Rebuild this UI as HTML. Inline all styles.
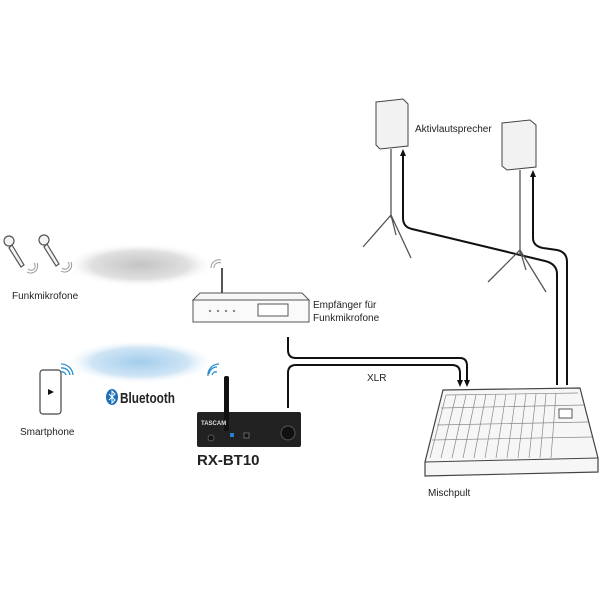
<!DOCTYPE html>
<html><head><style>
body{margin:0;width:600px;height:600px;background:#fff;overflow:hidden}
svg{display:block}
text{font-family:"Liberation Sans",sans-serif;fill:#222}
</style></head><body>
<svg width="600" height="600" viewBox="0 0 600 600">
<defs>
<radialGradient id="g1"><stop offset="0" stop-color="#c4c4c4"/><stop offset="0.65" stop-color="#e0e0e0"/><stop offset="1" stop-color="#fff" stop-opacity="0"/></radialGradient>
<radialGradient id="g2"><stop offset="0" stop-color="#a3cdec"/><stop offset="0.65" stop-color="#cfe5f5"/><stop offset="1" stop-color="#fff" stop-opacity="0"/></radialGradient>
<marker id="ar" markerUnits="userSpaceOnUse" markerWidth="8" markerHeight="8" refX="2" refY="4" orient="auto"><path d="M0,1 L7,4 L0,7z" fill="#111"/></marker>
</defs>
<ellipse cx="140" cy="265" rx="75" ry="22" fill="url(#g1)"/>
<ellipse cx="140" cy="362" rx="75" ry="22" fill="url(#g2)"/>
<!-- mics -->
<g stroke="#555" stroke-width="1.2" fill="#f4f4f4">
<circle cx="9" cy="241" r="5"/><path d="M12,245 L24,265 L21,267 L9,248z"/>
<circle cx="44" cy="240" r="5"/><path d="M47,244 L59,264 L56,266 L44,247z"/>
</g>
<g stroke="#999" fill="none" stroke-width="1">
<path d="M28,269 a4,4 0 0 0 6,-6 M27,272 a7,7 0 0 0 10,-9"/>
<path d="M62,268 a4,4 0 0 0 6,-6 M61,271 a7,7 0 0 0 10,-9"/>
<path d="M214,268 a5,5 0 0 1 7,-5 M211,268 a8,8 0 0 1 10,-8"/>
</g>
<text x="12" y="299" font-size="10">Funkmikrofone</text>
<!-- receiver -->
<line x1="222" y1="268" x2="222" y2="293" stroke="#555" stroke-width="2"/>
<path d="M200,293 L302,293 L309,300 L193,300z" fill="#f7f7f7" stroke="#555"/>
<rect x="193" y="300" width="116" height="22" fill="#fafafa" stroke="#555"/>
<g fill="#888"><circle cx="210" cy="311" r="1.2"/><circle cx="218" cy="311" r="1.2"/><circle cx="226" cy="311" r="1.2"/><circle cx="234" cy="311" r="1.2"/></g>
<rect x="258" y="304" width="30" height="12" fill="#fff" stroke="#555"/>
<text x="313" y="308" font-size="10">Empfänger für</text>
<text x="313" y="321" font-size="10">Funkmikrofone</text>
<!-- phone -->
<rect x="40" y="370" width="21" height="44" rx="3" fill="#fff" stroke="#444" stroke-width="1.2"/>
<path d="M48,389 L54,392 L48,395z" fill="#111"/>
<g stroke="#2a8fd0" fill="none" stroke-width="1.3">
<path d="M61,372 a4,4 0 0 1 5,3 M61,368 a8,8 0 0 1 9,7 M61,364 a12,12 0 0 1 12,11"/>
<path d="M212,375 a4,4 0 0 1 5,-3 M209,374 a8,8 0 0 1 8,-7 M208,376 a11,11 0 0 1 11,-12"/>
</g>
<text x="20" y="435" font-size="10">Smartphone</text>
<!-- bluetooth -->
<ellipse cx="112" cy="397" rx="6" ry="8" fill="#1e6fb8"/>
<path d="M109,394 L115,400 L112,403 L112,391 L115,394 L109,400" stroke="#fff" stroke-width="1" fill="none"/>
<text x="120" y="403" font-size="15" font-weight="bold" fill="#222" textLength="55" lengthAdjust="spacingAndGlyphs">Bluetooth</text>
<!-- RX-BT10 -->
<rect x="197" y="412" width="104" height="35" rx="2" fill="#222"/>
<rect x="224" y="376" width="5" height="55" rx="2" fill="#111"/>
<text x="201" y="425" font-size="6" font-weight="bold" style="fill:#ddd">TASCAM</text>
<circle cx="288" cy="433" r="7" fill="#111" stroke="#555"/>
<circle cx="211" cy="438" r="3" fill="#111" stroke="#555"/>
<rect x="230" y="433" width="4" height="4" fill="#2a7fd0"/>
<rect x="244" y="433" width="5" height="5" fill="#111" stroke="#666"/>
<text x="197" y="465" font-size="15" font-weight="bold">RX-BT10</text>
<!-- cables -->
<g stroke="#111" stroke-width="2" fill="none">
<path d="M288,337 L288,350 Q288,358 296,358 L460,358 Q467,358 467,366 L467,382" marker-end="url(#ar)"/>
<path d="M288,408 L288,373 Q288,365 296,365 L452,365 Q460,365 460,373 L460,382" marker-end="url(#ar)"/>
<path d="M557,385 L557,274 Q557,264 545,261 L412,229 Q403,227 403,218 L403,154" marker-end="url(#ar)"/>
<path d="M567,385 L567,262 Q567,252 557,250 L543,248 Q533,246 533,238 L533,175" marker-end="url(#ar)"/>
</g>
<text x="367" y="381" font-size="10">XLR</text>
<!-- speakers -->
<g stroke="#444" stroke-width="1" fill="#f2f2f2">
<path d="M376,102 L403,99 L408,104 L408,146 L380,149 L376,145z"/>
<path d="M502,123 L530,120 L536,125 L536,167 L507,170 L502,166z"/>
</g>
<g stroke="#555" stroke-width="1.3" fill="none">
<line x1="391" y1="149" x2="391" y2="218"/>
<path d="M391,215 L363,247 M391,215 L411,258 M391,215 L396,235"/>
<line x1="520" y1="170" x2="520" y2="255"/>
<path d="M520,250 L488,282 M520,250 L546,292 M520,250 L526,270"/>
</g>
<text x="415" y="132" font-size="10">Aktivlautsprecher</text>
<!-- mixer -->
<path d="M443,390 L580,388 L598,458 L598,472 L425,476 L425,462z" fill="#f6f6f6" stroke="#444" stroke-width="1.2"/>
<path d="M425,462 L598,458" stroke="#444"/>
<g stroke="#888" stroke-width="0.7">
<path d="M446,395 L578,393 M441,408 L584,405 M437,425 L588,422 M432,440 L592,437"/>
<path d="M446,395 L430,458 M456,395 L441,458 M466,395 L452,458 M476,395 L463,458 M486,394 L474,458 M496,394 L485,458 M506,394 L496,458 M516,394 L507,458 M526,394 L518,458 M536,394 L529,458 M546,394 L540,458 M556,393 L551,458"/>
</g>
<rect x="559" y="409" width="13" height="9" fill="#fff" stroke="#555"/>
<text x="428" y="496" font-size="10">Mischpult</text>
</svg>
</body></html>
